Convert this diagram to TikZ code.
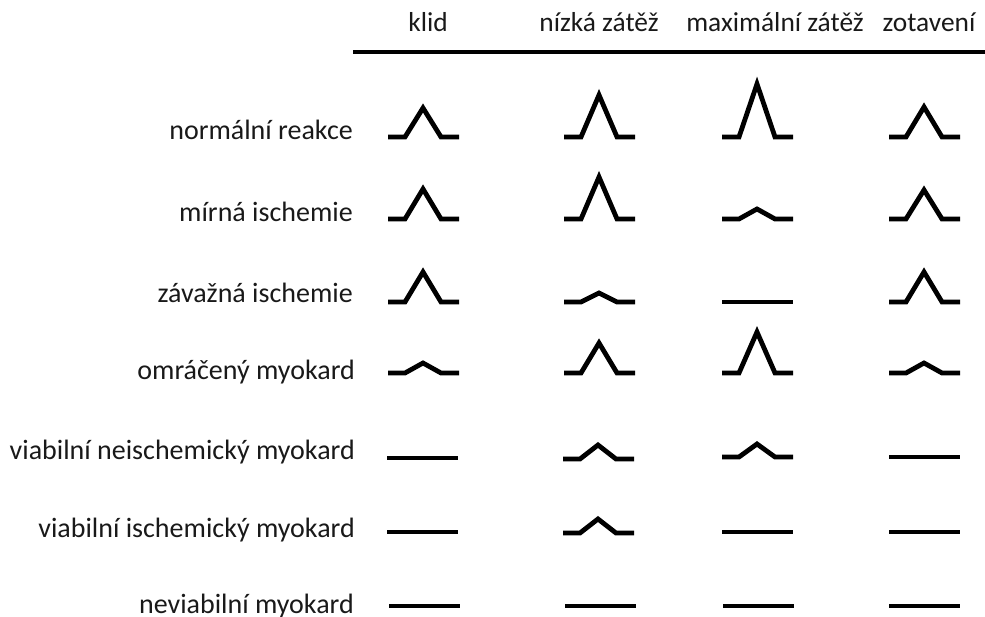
\documentclass[tikz,border=0pt]{standalone}
\usepackage{fontspec}
\setmainfont{Carlito}
\newcommand\ekgwave[3]{\draw[wv] (#1,#2) -- ++(17,0) -- ++(18,-#3) -- ++(18,#3) -- ++(18,0);}
\newcommand\ekgflat[2]{\draw[wv] (#1,#2) -- ++(71,0);}
\begin{document}
\begin{tikzpicture}[x=1pt,y=-1pt,
  lbl/.style={anchor=base east, inner sep=0pt, font=\fontsize{28}{33}\selectfont, text=black!90},
  hdr/.style={anchor=base, inner sep=0pt, font=\fontsize{27.4}{32}\selectfont, text=black!90},
  wv/.style={line width=4.8pt, line join=miter, line cap=butt, black}]
\useasboundingbox (0,0) rectangle (985,617);

% headers
\node[hdr] (h1) at (428,32) {klid};
\node[hdr] (h2) at (599,32) {nízká zátěž};
\node[hdr] (h3) at (775,32) {maximální zátěž};
\node[hdr] (h4) at (929,32) {zotavení};
\draw[line width=3.4pt] (353,52) -- (985,52);

% row labels
\node[lbl] (r1) at (353,140) {normální reakce};
\node[lbl] (r2) at (353,222) {mírná ischemie};
\node[lbl] (r3) at (353,303) {závažná ischemie};
\node[lbl] (r4) at (355,380) {omráčený myokard};
\node[lbl] (r5) at (355,459) {viabilní neischemický myokard};
\node[lbl] (r6) at (355,537) {viabilní ischemický myokard};
\node[lbl] (r7) at (354,613) {neviabilní myokard};

% row 1
\ekgwave{388}{137}{29}
\ekgwave{564}{137}{42}
\ekgwave{722}{137}{53}
\ekgwave{889}{137}{30}
% row 2
\ekgwave{388}{219}{30}
\ekgwave{564}{219}{42}
\ekgwave{722}{219}{10}
\ekgwave{889}{219}{29}
% row 3
\ekgwave{388}{302}{30}
\ekgwave{564}{302}{9}
\ekgflat{722}{302}
\ekgwave{889}{302}{30}
% row 4
\ekgwave{388}{373}{10}
\ekgwave{564}{373}{30}
\ekgwave{722}{373}{41}
\ekgwave{889}{373}{10}
% row 5
\ekgflat{387}{458}
\ekgwave{563}{459}{14}
\ekgwave{722}{457}{13}
\ekgflat{889}{457}
% row 6
\ekgflat{387}{532}
\ekgwave{563}{533}{14}
\ekgflat{722}{532}
\ekgflat{889}{532}
% row 7
\ekgflat{389}{606}
\ekgflat{565}{606}
\ekgflat{723}{606}
\ekgflat{889}{606}
\end{tikzpicture}
\end{document}
